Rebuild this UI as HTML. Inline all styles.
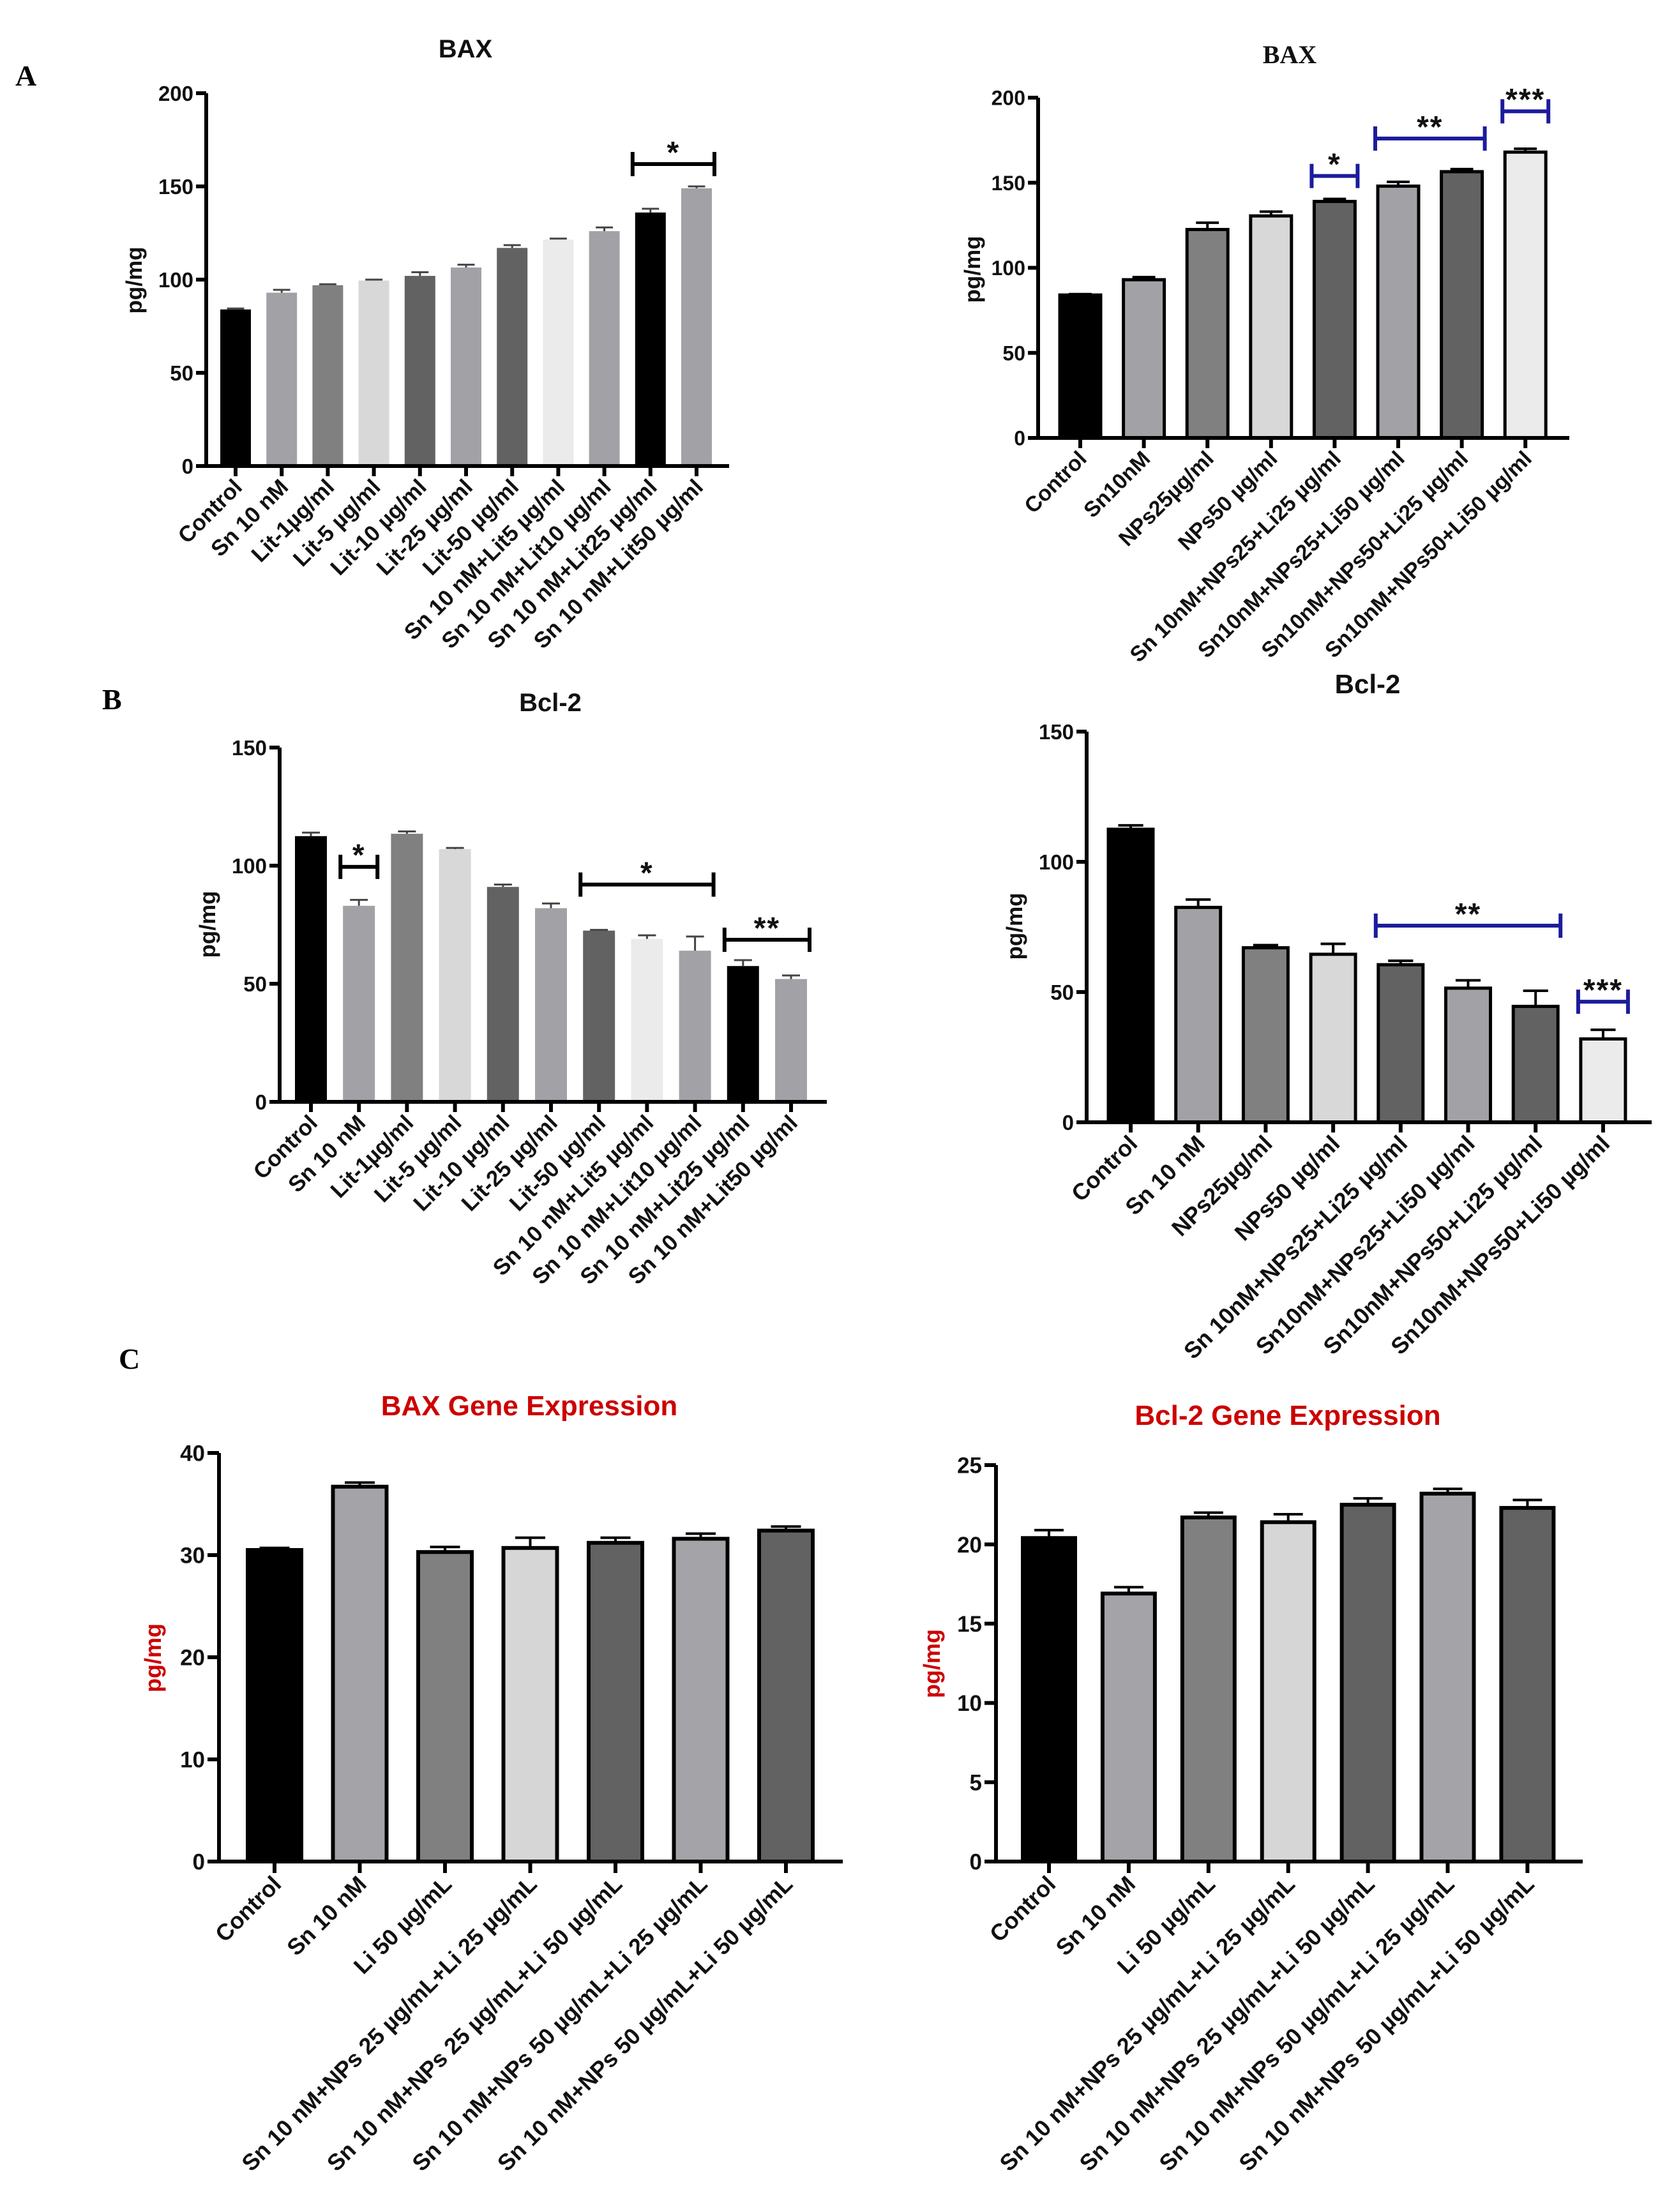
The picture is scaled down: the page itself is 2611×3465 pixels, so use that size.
<!DOCTYPE html>
<html><head><meta charset="utf-8"><style>
html,body{margin:0;padding:0;background:#fff}
svg{display:block;font-family:"Liberation Sans",Arial,sans-serif}
</style></head><body>
<svg id="fig" width="2611" height="3465" viewBox="0 0 2611 3465" xmlns="http://www.w3.org/2000/svg">
<rect width="2611" height="3465" fill="#fff"/>
<text x="24" y="134" font-family="Liberation Serif,serif" font-weight="bold" font-size="46">A</text>
<text x="160" y="1111" font-family="Liberation Serif,serif" font-weight="bold" font-size="46">B</text>
<text x="186" y="2144" font-family="Liberation Serif,serif" font-weight="bold" font-size="46">C</text>
</svg>
<script>
const catsAL = ["Control","Sn 10 nM","Lit-1µg/ml","Lit-5 µg/ml","Lit-10 µg/ml","Lit-25 µg/ml","Lit-50 µg/ml","Sn 10 nM+Lit5 µg/ml","Sn 10 nM+Lit10 µg/ml","Sn 10 nM+Lit25 µg/ml","Sn 10 nM+Lit50 µg/ml"];
const valsAL = [84,93,97,99.5,102,106.5,117,121.5,126,136,149];
const errsAL = [0.5,1.5,0.5,0.5,2,1.5,1.5,0.5,2,2,1];
const ticksAL = [0,50,100,150,200];
const sigAL = [[9,10,162,"*"]];

const catsAR = ["Control","Sn10nM","NPs25µg/ml","NPs50 µg/ml","Sn 10nM+NPs25+Li25 µg/ml","Sn10nM+NPs25+Li50 µg/ml","Sn10nM+NPs50+Li25 µg/ml","Sn10nM+NPs50+Li50 µg/ml"];
const valsAR = [84,93,122.5,130.5,139,148,156.5,168];
const errsAR = [0.5,1.5,4,2.5,1.5,2.5,1.5,2];
const ticksAR = [0,50,100,150,200];
const sigAR = [[4,4,154,"*"],[5,6,176,"**"],[7,7,192,"***"]];

const catsBL = catsAL;
const valsBL = [112.5,83,113.5,107,91,82,72.5,69,64,57.5,52];
const errsBL = [1.5,2.5,1,0.5,1,2,0.3,1.5,6,2.5,1.5];
const ticksBL = [0,50,100,150];
const sigBL = [[1,1,99.5,"*"],[6,8,92,"*"],[9,10,68.6,"**"]];

const catsBR = ["Control","Sn 10 nM","NPs25µg/ml","NPs50 µg/ml","Sn 10nM+NPs25+Li25 µg/ml","Sn10nM+NPs25+Li50 µg/ml","Sn10nM+NPs50+Li25 µg/ml","Sn10nM+NPs50+Li50 µg/ml"];
const valsBR = [112.5,82.5,67,64.5,60.5,51.5,44.5,32];
const errsBR = [1.5,3,1,4,1.5,3,6,3.5];
const ticksBR = [0,50,100,150];
const sigBR = [[4,6,75.5,"**"],[7,7,46.3,"***"]];

const catsC = ["Control","Sn 10 nM","Li 50 µg/mL","Sn 10 nM+NPs 25 µg/mL+Li 25 µg/mL","Sn 10 nM+NPs 25 µg/mL+Li 50 µg/mL","Sn 10 nM+NPs 50 µg/mL+Li 25 µg/mL","Sn 10 nM+NPs 50 µg/mL+Li 50 µg/mL"];
const valsCL = [30.5,36.7,30.3,30.7,31.2,31.6,32.4];
const errsCL = [0.2,0.4,0.5,1,0.5,0.5,0.4];
const ticksCL = [0,10,20,30,40];
const valsCR = [20.4,16.9,21.7,21.4,22.5,23.2,22.3];
const errsCR = [0.5,0.4,0.3,0.5,0.4,0.3,0.5];
const ticksCR = [0,5,10,15,20,25];

const NS="http://www.w3.org/2000/svg";
const svg=document.getElementById('fig');
function mk(tag,attrs,parent){const e=document.createElementNS(NS,tag);for(const k in attrs)e.setAttribute(k,attrs[k]);(parent||svg).appendChild(e);return e;}

function panel(cfg,cats,vals,errs,ticks,sig){
  const g=mk('g',{});
  
  
  const maxV=ticks[ticks.length-1];
  const yS=v=>cfg.y0-(v/maxV)*(cfg.y0-cfg.yTop);
  const xS=i=>cfg.c0+i*cfg.sp;
  const t=mk('text',{x:cfg.tx,y:cfg.ty,'text-anchor':'middle','font-weight':'bold','font-size':cfg.tfs,fill:cfg.tcol||'#111','font-family':cfg.serif?'Liberation Serif,serif':'Liberation Sans,Arial,sans-serif'},g);
  t.textContent=cfg.title;
  
  
  const yl=mk('text',{x:0,y:0,'text-anchor':'middle','font-weight':'bold','font-size':cfg.lfs,fill:cfg.ycol||'#111',transform:`translate(${cfg.ylx},${cfg.yly}) rotate(-90)`},g);
  yl.textContent='pg/mg';
  
  
  vals.forEach((v,i)=>{
    const cx=xS(i),w=cfg.bw,top=yS(v);
    const b=mk('rect',{x:cx-w/2,y:top,width:w,height:cfg.y0-top,fill:cfg.cols[i%cfg.cols.length]},g);
    if(cfg.outline){b.setAttribute('stroke','#000');b.setAttribute('stroke-width',cfg.ow);}
    
    
    const et=yS(v+errs[i]);
    const eb=mk('path',{d:`M${cx},${top} V${et} M${cx-w*0.28},${et} H${cx+w*0.28}`,stroke:cfg.outline?'#000':'#444','stroke-width':cfg.outline?4:3,fill:'none'},g);
    
    
    mk('line',{x1:cx,y1:cfg.y0,x2:cx,y2:cfg.y0+cfg.tl,stroke:'#000','stroke-width':cfg.aw},g);
    const lb=mk('text',{x:0,y:0,'text-anchor':'end','font-weight':'bold','font-size':cfg.xfs,fill:'#111',transform:`translate(${cx+cfg.xfs*0.35},${cfg.y0+cfg.tl+cfg.xfs*0.55}) rotate(-45)`},g);
    lb.textContent=cats[i];
    
    
  });
  const ax=mk('path',{d:`M${cfg.x0},${cfg.yTop} V${cfg.y0} H${cfg.xEnd}`,stroke:'#000','stroke-width':cfg.aw,fill:'none'},g);
  
  
  ticks.forEach(tv=>{
    const y=yS(tv);
    mk('line',{x1:cfg.x0-cfg.tl,y1:y,x2:cfg.x0,y2:y,stroke:'#000','stroke-width':cfg.aw},g);
    const tt=mk('text',{x:cfg.x0-cfg.tl-4,y:y+cfg.yfs*0.36,'text-anchor':'end','font-weight':'bold','font-size':cfg.yfs,fill:'#111'},g);
    tt.textContent=tv;
    
    
  });
  (sig||[]).forEach(s=>{
    const xa=xS(s[0])-cfg.bw/2-4,xb=xS(s[1])+cfg.bw/2+4,y=yS(s[2]);
    const br=mk('path',{d:`M${xa},${y-cfg.bh} V${y+cfg.bh} M${xa},${y} H${xb} M${xb},${y-cfg.bh} V${y+cfg.bh}`,stroke:cfg.scol,'stroke-width':6,fill:'none'},g);
    
    
    const st=mk('text',{x:(xa+xb)/2,y:y-cfg.bh+cfg.sfs*0.35,'text-anchor':'middle','font-weight':'bold','font-size':cfg.sfs,fill:'#111','letter-spacing':'2'},g);
    st.textContent=s[3];
    
    
  });
}
const grey=["#000","#a2a2a6","#808080","#d8d8d8","#626262","#a2a2a6","#626262","#ebebeb","#a2a2a6","#000","#a2a2a6"];
const greyR=["#000","#a2a2a6","#808080","#d8d8d8","#626262","#a2a2a6","#626262","#ebebeb"];
const greyC=["#000","#a4a4a8","#808080","#d6d6d6","#626262","#a4a4a8","#626262"];

panel({name:'bax-chart-a-left',x0:323,y0:730,yTop:146,xEnd:1142,c0:369,sp:72.2,bw:48,outline:false,aw:6,tl:16,
  title:'BAX',tx:729,ty:90,tfs:40,lfs:35,ylx:222,yly:439,xfs:35,yfs:33,cols:grey,scol:'#000',bh:19,sfs:48},catsAL,valsAL,errsAL,ticksAL,sigAL);
panel({name:'bax-chart-a-right',x0:1626,y0:686,yTop:153,xEnd:2458,c0:1692,sp:99.6,bw:64,outline:true,ow:5,aw:6,tl:16,
  title:'BAX',tx:2020,ty:99,tfs:40,serif:true,lfs:35,ylx:1535,yly:422,xfs:34,yfs:32,cols:greyR,scol:'#1c1c9c',bh:19,sfs:48},catsAR,valsAR,errsAR,ticksAR,sigAR);
panel({name:'bcl2-chart-b-left',x0:438,y0:1726,yTop:1171,xEnd:1295,c0:487,sp:75.2,bw:50,outline:false,aw:6,tl:16,
  title:'Bcl-2',tx:862,ty:1114,tfs:40,lfs:35,ylx:337,yly:1448,xfs:35,yfs:33,cols:grey,scol:'#000',bh:19,sfs:48},catsBL,valsBL,errsBL,ticksBL,sigBL);
panel({name:'bcl2-chart-b-right',x0:1702,y0:1758,yTop:1146,xEnd:2587,c0:1771,sp:105.7,bw:70,outline:true,ow:5,aw:6,tl:16,
  title:'Bcl-2',tx:2142,ty:1086,tfs:42,lfs:35,ylx:1601,yly:1451,xfs:36,yfs:33,cols:greyR,scol:'#1c1c9c',bh:19,sfs:48},catsBR,valsBR,errsBR,ticksBR,sigBR);
panel({name:'bax-gene-expression-chart',x0:343,y0:2916,yTop:2276,xEnd:1320,c0:430,sp:133.5,bw:84,outline:true,ow:6,aw:6,tl:18,
  title:'BAX Gene Expression',tx:829,ty:2217,tfs:44,tcol:'#cc0000',lfs:36,ycol:'#cc0000',ylx:252,yly:2597,xfs:36,yfs:35,cols:greyC},catsC,valsCL,errsCL,ticksCL,[]);
panel({name:'bcl2-gene-expression-chart',x0:1560,y0:2916,yTop:2295,xEnd:2479,c0:1643,sp:124.9,bw:82,outline:true,ow:6,aw:6,tl:18,
  title:'Bcl-2 Gene Expression',tx:2017,ty:2232,tfs:44,tcol:'#cc0000',lfs:36,ycol:'#cc0000',ylx:1472,yly:2606,xfs:36,yfs:35,cols:greyC},catsC,valsCR,errsCR,ticksCR,[]);
</script>
</body></html>
